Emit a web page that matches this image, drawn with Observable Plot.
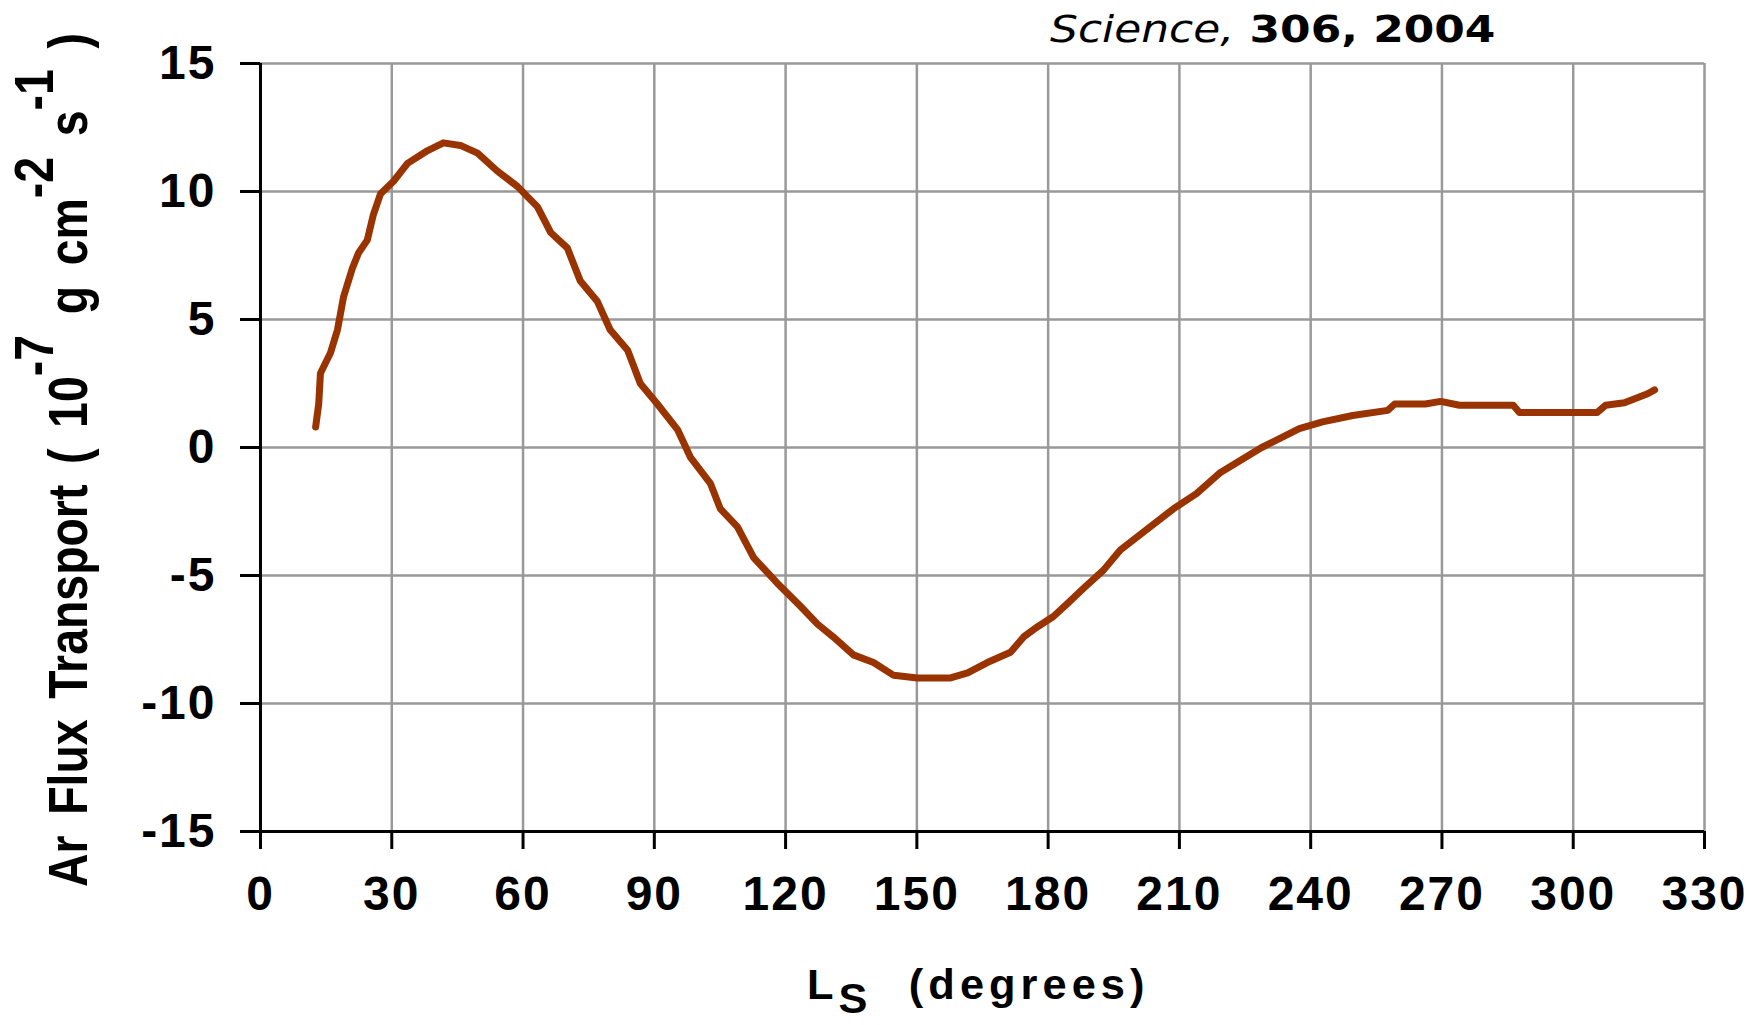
<!DOCTYPE html>
<html><head><meta charset="utf-8">
<script src="https://cdn.jsdelivr.net/npm/d3@7"></script>
<script src="https://cdn.jsdelivr.net/npm/@observablehq/plot@0.6"></script>
<style>
html,body{margin:0;padding:0;background:#fff;}
#wrap{position:relative;width:1749px;height:1025px;overflow:hidden;}
.lab{position:absolute;white-space:nowrap;line-height:1;font-family:"Liberation Sans",Arial,sans-serif;font-weight:bold;color:#000;}
#title{font-family:"DejaVu Sans",sans-serif;font-size:38px;left:1050px;top:10px;transform-origin:0 0;}
#ylab{font-size:48px;left:41px;top:887px;transform-origin:0 0;word-spacing:8px;}
#ylab .sup{position:relative;top:-30px;}
#xlab{font-size:43px;left:807px;top:963px;transform-origin:0 0;letter-spacing:5px;}
#xlab .sub{position:relative;top:14px;}
</style></head><body>
<div id="wrap"></div>
<script>
// Solar longitude (degrees)
const ls = [12.6, 13.3, 13.7, 16.0, 17.6, 19.0, 21.0, 22.4, 24.4, 25.8, 27.4, 30.4, 33.6, 38.2, 41.8, 45.7, 49.6, 54.1, 58.7, 63.3, 66.3, 70.1, 73.1, 77.0, 79.9, 83.9, 86.8, 90.7, 95.3, 98.3, 102.8, 105.1, 109.0, 112.7, 118.1, 123.4, 127.3, 130.9, 135.5, 140.1, 144.7, 150.1, 157.7, 161.6, 166.1, 171.4, 174.4, 177.6, 181.2, 184.4, 188.1, 192.6, 196.5, 201.8, 208.6, 213.9, 219.2, 228.8, 237.4, 242.7, 249.6, 257.6, 259.2, 266.2, 269.7, 274.0, 286.3, 287.7, 305.5, 307.4, 311.7, 317.0, 318.6];
// Ar flux transport (1e-7 g cm^-2 s^-1)
const flux = [0.8, 1.7, 2.9, 3.7, 4.6, 5.9, 7.0, 7.6, 8.1, 9.1, 9.9, 10.4, 11.1, 11.6, 11.9, 11.8, 11.5, 10.8, 10.2, 9.4, 8.4, 7.8, 6.5, 5.7, 4.6, 3.8, 2.5, 1.7, 0.7, -0.4, -1.4, -2.4, -3.1, -4.3, -5.3, -6.2, -6.9, -7.4, -8.1, -8.4, -8.9, -9.0, -9.0, -8.8, -8.4, -8.0, -7.4, -7.0, -6.6, -6.1, -5.5, -4.8, -4.0, -3.3, -2.4, -1.8, -1.0, 0.0, 0.74, 1.0, 1.25, 1.45, 1.7, 1.7, 1.8, 1.65, 1.65, 1.37, 1.37, 1.65, 1.75, 2.1, 2.25];
const xTicks = [0, 30, 60, 90, 120, 150, 180, 210, 240, 270, 300, 330];
const yTicks = [-15, -10, -5, 0, 5, 10, 15];
const titleText = ["Science,", "306, 2004"];

const data = ls.map((d, i) => ({ls: d, flux: flux[i]}));

const chart = Plot.plot({
  width: 1749,
  height: 1025,
  marginLeft: 260,
  marginRight: 45,
  marginTop: 63,
  marginBottom: 194,
  style: {fontFamily: "'Liberation Sans', Arial, sans-serif", fontSize: "48px", fontWeight: "bold", letterSpacing: "2px", background: "#fff", color: "#000"},
  x: {domain: [0, 330]},
  y: {domain: [-15, 15]},
  marks: [
    Plot.gridX({ticks: xTicks, stroke: "#999", strokeOpacity: 1, strokeWidth: 2.5}),
    Plot.gridY({ticks: yTicks, stroke: "#999", strokeOpacity: 1, strokeWidth: 2.5}),
    Plot.axisX({ticks: xTicks, tickSize: 18, tickPadding: 26, label: null, strokeWidth: 3, tickFormat: d => String(d)}),
    Plot.axisY({ticks: yTicks, tickSize: 20, tickPadding: 24, label: null, strokeWidth: 3, tickFormat: d => String(d)}),
    Plot.ruleX([0], {stroke: "#000", strokeWidth: 3}),
    Plot.ruleY([-15], {stroke: "#000", strokeWidth: 3}),
    Plot.line(data, {x: "ls", y: "flux", stroke: "#993300", strokeWidth: 7, strokeLinejoin: "round", strokeLinecap: "round"})
  ]
});
const wrap = document.getElementById("wrap");
wrap.appendChild(chart);

const title = document.createElement("div");
title.id = "title"; title.className = "lab";
title.innerHTML = `<span style="font-style:italic;font-weight:normal">${titleText[0]}</span> <span style="font-weight:bold">${titleText[1]}</span>`;
wrap.appendChild(title);

const ylab = document.createElement("div");
ylab.id = "ylab"; ylab.className = "lab";
ylab.innerHTML = `Ar Flux Transport ( 10<span class="sup">-7</span> g cm<span class="sup">-2</span> s<span class="sup">-1</span> )`;
wrap.appendChild(ylab);

const xlab = document.createElement("div");
xlab.id = "xlab"; xlab.className = "lab";
xlab.innerHTML = `L<span class="sub">S</span><span style="margin-left:36px">(degrees)</span>`;
wrap.appendChild(xlab);

// fit text lengths to the reference extents
title.style.transform = `scaleX(${445 / title.offsetWidth})`;
xlab.style.transform = `scaleX(${343 / xlab.offsetWidth})`;
ylab.style.transform = `rotate(-90deg) scale(${854 / ylab.offsetWidth}, 1.15)`;
</script>
</body></html>
